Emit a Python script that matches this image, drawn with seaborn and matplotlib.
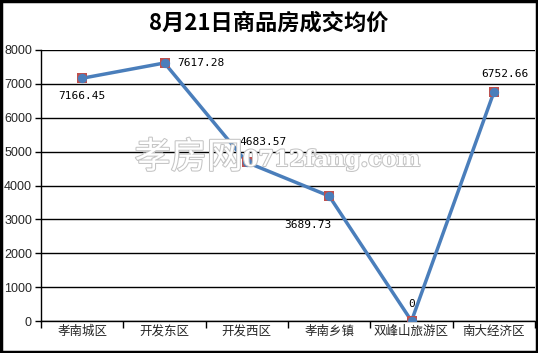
import matplotlib
matplotlib.use("Agg")
import matplotlib.pyplot as plt
import matplotlib.patheffects as pe
import seaborn as sns
import pandas as pd
import numpy as np

categories = ["孝南城区", "开发东区", "开发西区", "孝南乡镇", "双峰山旅游区", "南大经济区"]
prices = [7166.45, 7617.28, 4683.57, 3689.73, 0, 6752.66]
price_labels = ["7166.45", "7617.28", "4683.57", "3689.73", "0", "6752.66"]
title = "8月21日商品房成交均价"

sns.set_theme(style="white")
plt.rcParams['font.family'] = ['Noto Sans CJK SC', 'DejaVu Sans']

df = pd.DataFrame({"idx": np.arange(len(categories)), "cat": categories, "price": prices})

fig = plt.figure(figsize=(5.38, 3.53), dpi=100)
ax = fig.add_axes([41/538, 32/353, 494/538, 271/353])
ax.patch.set_alpha(0)

line_color = "#4a7ebb"
sns.lineplot(data=df, x="idx", y="price", ax=ax, color=line_color, linewidth=2.5, zorder=3)
sns.scatterplot(data=df, x="idx", y="price", ax=ax, marker="s", s=62, color="#c0504d",
                edgecolor="#c0504d", linewidth=0, zorder=4)
sns.scatterplot(data=df, x="idx", y="price", ax=ax, marker="o", s=45, color=line_color,
                edgecolor=line_color, linewidth=0, zorder=5)

ax.set_xlim(-0.5, len(categories) - 0.5)
ax.set_ylim(0, 8000)
ax.set_yticks(range(0, 8001, 1000))
ax.yaxis.grid(True, color="black", linewidth=1)
ax.set_axisbelow(True)

ax.set_xticks(np.arange(-0.5, len(categories), 1.0))
ax.set_xticklabels([""] * (len(categories) + 1))
ax.set_xticks(np.arange(len(categories)), minor=True)
ax.set_xticklabels(categories, minor=True, fontsize=9)
ax.tick_params(axis="x", which="major", direction="out", length=5, width=1, color="black", bottom=True)
ax.tick_params(axis="x", which="minor", length=0, pad=3)
ax.tick_params(axis="y", direction="out", length=4, width=1, color="black", left=True, labelsize=9, pad=2.5)
for lab in ax.get_yticklabels():
    lab.set_family(['Liberation Sans'])

for s in ["top", "right"]:
    ax.spines[s].set_visible(False)
for s in ["left", "bottom"]:
    ax.spines[s].set_color("black")
    ax.spines[s].set_linewidth(1)

ax.set_xlabel("")
ax.set_ylabel("")

# data labels (offsets in points)
offsets = [(0, -13, "center"), (9, 0, "left"), (12, 15, "center"), (-15, -21, "center"), (0, 12, "center"), (8, 13, "center")]
for i, (v, t) in enumerate(zip(prices, price_labels)):
    dx, dy, ha = offsets[i]
    ax.annotate(t, (i, v), xytext=(dx, dy), textcoords="offset points", ha=ha, va="center",
                fontsize=8, family="DejaVu Sans Mono", color="black", zorder=6)

# watermark
wm_effect = [pe.withStroke(linewidth=1.5, foreground="#c4c4c4")]
t1 = fig.text(243/538, 1 - 158/353, "孝房网", fontsize=26, color="white", ha="right", va="center", zorder=0)
t1.set_path_effects(wm_effect)
t2 = fig.text(243/538, 1 - 160/353, "0712fang.com", fontsize=16, color="white", ha="left", va="center",
              family=["DejaVu Serif"], fontweight="bold", zorder=0)
t2.set_path_effects(wm_effect)

fig.text(0.5, 1 - 23/353, title, ha="center", va="center", fontsize=16, fontweight="bold", color="black")

# frame
fig.patches.append(plt.Rectangle((0.002, 0.003), 0.996, 0.994, transform=fig.transFigure,
                                 fill=False, edgecolor="black", linewidth=2.5))

fig.savefig("out.png", dpi=100)
